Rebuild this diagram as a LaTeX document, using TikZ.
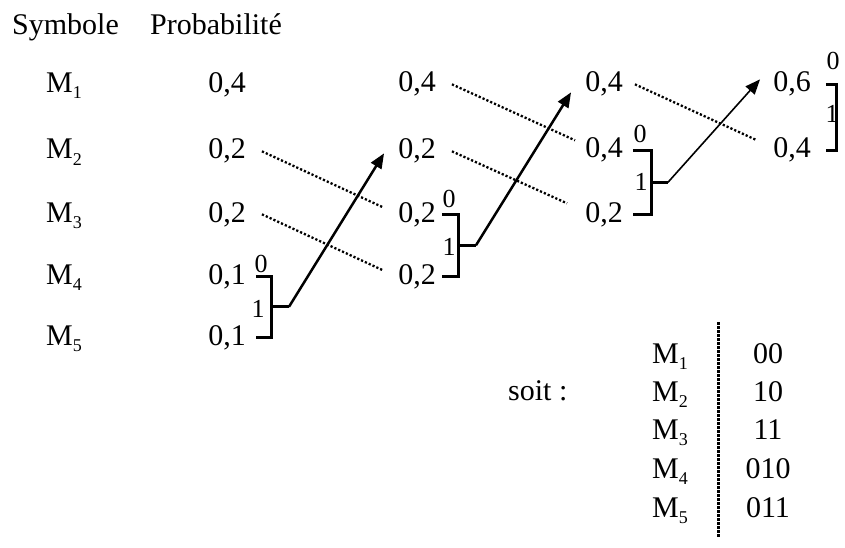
\documentclass[tikz,border=0pt]{standalone}
\usepackage{fontspec}
\setmainfont{Liberation Serif}
\usetikzlibrary{arrows.meta,calc}
\newcommand{\bigsz}{\fontsize{30}{36}\selectfont}
\newcommand{\smsz}{\fontsize{26}{30}\selectfont}
\newcommand{\Msub}[1]{M\raisebox{-6pt}{\fontsize{18}{18}\selectfont #1}}
\begin{document}
\begin{tikzpicture}[x=1pt,y=-1pt,
 txt/.style={font=\bigsz,inner sep=0pt,anchor=base},
 txtw/.style={font=\bigsz,inner sep=0pt,anchor=base west},
 lbl/.style={font=\smsz,inner sep=0pt,anchor=base},
 brk/.style={line width=3pt,line cap=butt,line join=miter},
 dotl/.style={line width=2.3pt,dash pattern=on 2.2pt off 2pt},
 arr/.style={line width=2.5pt,-{Triangle[length=15pt,width=12pt]}},
 arrthin/.style={line width=1.6pt,-{Triangle[length=15pt,width=12pt]}},
 codeline/.style={line width=3pt,dash pattern=on 2.5pt off 1.5pt}]
\useasboundingbox (0,0) rectangle (845,548);
% headers
\node[txtw] (hsym) at (12,35) {Symbole};
\node[txtw] (hprob) at (150,35) {Probabilité};
% symbols
\node[txtw] (m1) at (46,93) {\Msub{1}};
\node[txtw] (m2) at (46,159) {\Msub{2}};
\node[txtw] (m3) at (46,222) {\Msub{3}};
\node[txtw] (m4) at (46,284) {\Msub{4}};
\node[txtw] (m5) at (46,345) {\Msub{5}};
% column 1
\node[txt] (c1r1) at (227,93) {0,4};
\node[txt] (c1r2) at (227,159) {0,2};
\node[txt] (c1r3) at (227,222) {0,2};
\node[txt] (c1r4) at (227,284) {0,1};
\node[txt] (c1r5) at (227,345) {0,1};
% column 2
\node[txt] (c2r1) at (417,92) {0,4};
\node[txt] (c2r2) at (417,159) {0,2};
\node[txt] (c2r3) at (417,222) {0,2};
\node[txt] (c2r4) at (417,284) {0,2};
% column 3
\node[txt] (c3r1) at (604,92) {0,4};
\node[txt] (c3r2) at (604,158) {0,4};
\node[txt] (c3r3) at (604,222) {0,2};
% column 4
\node[txt] (c4r1) at (792,92) {0,6};
\node[txt] (c4r2) at (792,158) {0,4};
% dotted transfers
\draw[dotl] ([xshift=16pt]c1r2.east) -- ([xshift=-15pt,yshift=7pt]c2r3.west);
\draw[dotl] ([xshift=16pt]c1r3.east) -- ([xshift=-15pt,yshift=6pt]c2r4.west);
\draw[dotl] ([xshift=16pt]c2r1.east) -- ([xshift=-10pt,yshift=10pt]c3r2.west);
\draw[dotl] ([xshift=16pt]c2r2.east) -- ([xshift=-18pt,yshift=11pt]c3r3.west);
\draw[dotl] ([xshift=12pt]c3r1.east) -- ([xshift=-16pt,yshift=10pt]c4r2.west);
% bracket 1
\draw[brk] ([xshift=10pt]c1r4.east) -| ([xshift=26pt]c1r5.east) -- ([xshift=10pt]c1r5.east);
\coordinate (b1) at ($([xshift=26pt]c1r4.east)!0.5!([xshift=26pt]c1r5.east)$);
\draw[brk] (b1) -- ++(17,0) coordinate (s1);
\draw[arr] (s1) -- ([xshift=-14pt,yshift=-2pt]c2r2.west);
\node[lbl] (l10) at (261,272) {0};
\node[lbl] (l11) at (258,317) {1};
% bracket 2
\draw[brk] ([xshift=6pt]c2r3.east) -| ([xshift=23pt]c2r4.east) -- ([xshift=6pt]c2r4.east);
\coordinate (b2) at ($([xshift=23pt]c2r3.east)!0.5!([xshift=23pt]c2r4.east)$);
\draw[brk] (b2) -- ++(17,0) coordinate (s2);
\draw[arr] (s2) -- ([xshift=-14pt,yshift=-8pt]c3r1.west);
\node[lbl] (l20) at (449,207) {0};
\node[lbl] (l21) at (449,255) {1};
% bracket 3
\draw[brk] ([xshift=10pt]c3r2.east) -| ([xshift=29pt]c3r3.east) -- ([xshift=10pt]c3r3.east);
\coordinate (b3) at ($([xshift=29pt]c3r2.east)!0.5!([xshift=29pt]c3r3.east)$);
\draw[brk] (b3) -- ++(16,0) coordinate (s3);
\draw[arrthin] (s3) -- ([xshift=-13pt,yshift=5pt]c4r1.west);
\node[lbl] (l30) at (640,143) {0};
\node[lbl] (l31) at (641,190) {1};
% bracket 4
\draw[brk] ([xshift=15pt]c4r1.east) -| ([xshift=26pt]c4r2.east) -- ([xshift=15pt]c4r2.east);
\node[lbl] (l40) at (833,70) {0};
\node[lbl] (l41) at (832,123) {1};
% result table
\node[txtw] (soit) at (508,400) {soit :};
\node[txtw] (t1) at (652,363) {\Msub{1}};
\node[txtw] (t2) at (652,401) {\Msub{2}};
\node[txtw] (t3) at (652,439) {\Msub{3}};
\node[txtw] (t4) at (652,478) {\Msub{4}};
\node[txtw] (t5) at (652,517) {\Msub{5}};
\node[txt] (k1) at (768,363) {00};
\node[txt] (k2) at (768,401) {10};
\node[txt] (k3) at (768,439) {11};
\node[txt] (k4) at (768,478) {010};
\node[txt] (k5) at (768,517) {011};
\coordinate (vt) at (718,322);
\coordinate (vb) at (718,538);
\draw[codeline] (vt) -- (vb);
\end{tikzpicture}
\end{document}
